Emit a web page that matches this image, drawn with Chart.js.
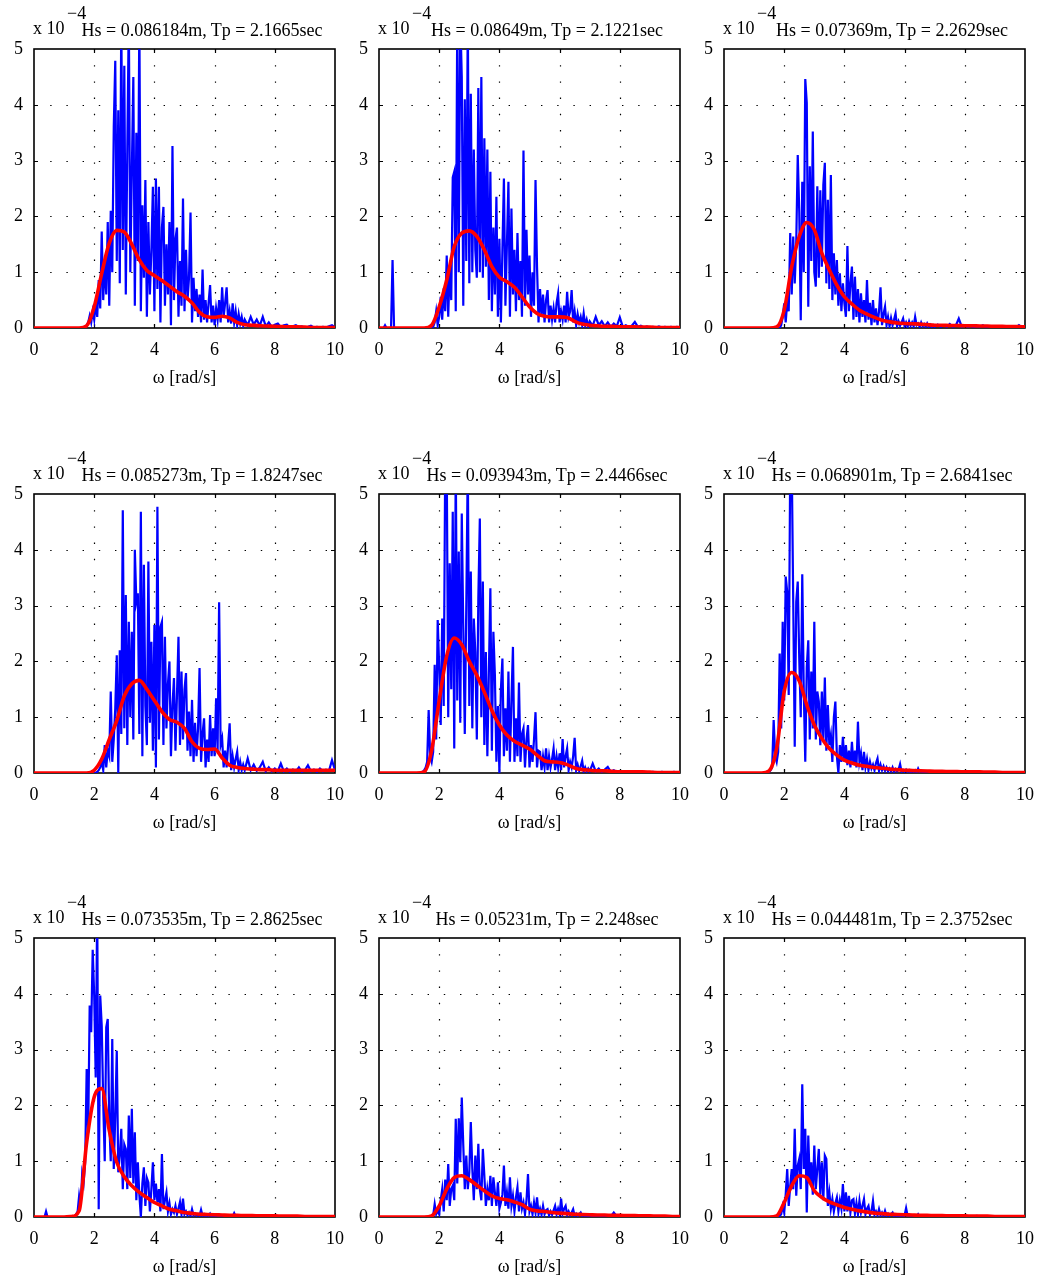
<!DOCTYPE html>
<html>
<head>
<meta charset="utf-8">
<script src="https://cdn.jsdelivr.net/npm/chart.js@4.4.1/dist/chart.umd.min.js"></script>
<style>
html, body { margin: 0; padding: 0; background: #fff; }
#fig { position: relative; width: 1041px; height: 1281px; overflow: hidden; background: #fff;
       font-family: "Liberation Serif", "Times New Roman", serif; color: #000; }
#fig canvas { position: absolute; }
.lbl { position: absolute; font-size: 18px; line-height: 20px; white-space: nowrap; }
</style>
</head>
<body>
<div id="fig"></div>
<script>
// ---- axis ticks -------------------------------------------------------
const xTicks = [0, 2, 4, 6, 8, 10];
const yTicks = [0, 1, 2, 3, 4, 5];
const xLabel = 'ω [rad/s]';
const yExponent = '−4';

// ---- panel titles -----------------------------------------------------
const panelTitles = [
  'Hs = 0.086184m, Tp = 2.1665sec',
  'Hs = 0.08649m, Tp = 2.1221sec',
  'Hs = 0.07369m, Tp = 2.2629sec',
  'Hs = 0.085273m, Tp = 1.8247sec',
  'Hs = 0.093943m, Tp = 2.4466sec',
  'Hs = 0.068901m, Tp = 2.6841sec',
  'Hs = 0.073535m, Tp = 2.8625sec',
  'Hs = 0.05231m, Tp = 2.248sec',
  'Hs = 0.044481m, Tp = 2.3752sec'
];

// ---- frequency bins ---------------------------------------------------
// measured spectrum: 0.05 rad/s bins up to 7 rad/s, 0.1 rad/s bins above
const omegaFine = Array.from({ length: 141 }, (_, i) => Math.round(i * 5) / 100);
const omegaTail = Array.from({ length: 30 }, (_, i) => (71 + i) / 10);
const omegaMeasured = omegaFine.concat(omegaTail);
// fitted spectrum: 0.25 rad/s bins
const omegaFit = Array.from({ length: 41 }, (_, i) => i * 0.25);

// ---- measured spectra (x 1e-4), one row per 1 rad/s, last row = 7.0 + tail 7.1..10.0
const blue1 = [
  0,0,0,0,0,0,0,0,0,0,0,0,0,0,0,0,0,0,0,0,
  0,0,0,0,0,0,0,0,0,0,0,0,0,0,0.02,0.05,0.1,0.22,0.1,0.3,
  0.15,0.45,0.2,0.86,0.35,1.73,0.5,1.2,0.6,1.9,0.4,2.1,1.0,3.6,4.79,1.2,3.9,0.8,5.6,1.4,
  4.7,0.6,3.2,5.6,1.0,2.8,4.5,0.4,3.5,1.2,5.6,0.3,2.2,0.9,2.65,0.2,1.9,0.6,1.4,2.53,
  0.3,2.68,0.7,2.53,0.1,1.8,2.17,0.4,1.5,0.6,1.9,0.05,3.26,0.5,1.6,1.8,0.2,1.2,0.4,2.32,
  0.3,1.4,0.5,0.9,2.07,0.1,0.9,0.3,0.7,0.2,0.6,0.1,1.05,0.15,0.5,0.1,0.45,0.77,0.1,0.4,
  0.05,0.35,0.15,0.5,0.1,0.73,0.2,0.45,0.73,0.1,0.3,0.08,0.44,0.1,0.3,0.05,0.25,0.08,0.2,0.04,
  0.15,
  0.05,0.2,0.06,0.15,0.04,0.2,0.03,0.1,0.02,0.06,0.08,0.02,0.05,0.06,0.01,0.03,0.05,0.02,0.03,0.01,
  0.02,0.04,0.01,0.02,0.01,0.02,0.01,0.03,0.05,0.01
];
const blue2 = [
  0,0,0,0,0.05,0,0,0,0,1.22,0,0,0,0,0,0,0,0,0,0,
  0,0,0,0,0,0,0,0,0,0,0,0,0,0,0,0,0.02,0.1,0.3,0.05,
  0.2,0.56,0.15,0.71,0.3,1.3,0.2,1.1,0.5,2.7,2.8,0.3,5.6,1.0,5.6,4.5,0.4,4.1,1.2,5.6,
  0.8,4.2,1.0,3.2,1.4,0.9,4.3,1.0,4.5,0.9,3.4,1.1,3.2,0.5,2.8,0.3,1.8,0.6,2.35,0.2,
  1.6,0.1,1.4,2.68,0.4,1.5,2.62,0.2,2.14,0.6,1.4,0.3,1.7,0.5,1.2,0.2,3.18,0.4,1.76,0.6,
  1.3,0.2,1.0,0.4,2.65,1.1,0.1,0.7,0.2,0.6,0.1,0.5,0.68,0.1,0.4,0.15,0.35,0.1,0.45,0.62,
  0.1,0.3,0.15,0.4,0.1,0.65,0.2,0.3,0.68,0.1,0.3,0.05,0.25,0.1,0.2,0.05,0.26,0.05,0.15,0.03,
  0.12,
  0.04,0.2,0.05,0.12,0.03,0.1,0.02,0.08,0.03,0.19,0.02,0.05,0.02,0.04,0.11,0.02,0.04,0.01,0.03,0.01,
  0.02,0.01,0.03,0.01,0.02,0.01,0.02,0.01,0.02,0.01
];
const blue3 = [
  0,0,0,0,0,0,0,0,0,0,0,0,0,0,0,0,0,0,0,0,
  0,0,0,0,0,0,0,0,0,0,0,0,0,0,0,0,0,0,0.05,0.2,
  0.44,0.1,0.47,0.3,1.7,0.6,1.64,0.8,1.52,3.1,2.08,0.14,2.62,1.0,4.46,4.03,0.38,2.9,1.2,3.52,
  1.0,0.74,2.54,0.9,2.47,1.1,2.56,2.96,0.8,2.3,0.7,2.74,0.5,1.34,0.6,1.22,0.4,0.98,0.3,0.8,
  0.44,0.2,1.47,0.3,0.8,1.1,0.15,0.92,0.2,0.7,0.1,0.62,0.2,0.5,0.1,0.86,0.15,0.45,0.05,0.5,
  0.1,0.35,0.05,0.3,0.73,0.05,0.25,0.38,0.05,0.2,0.03,0.18,0.05,0.15,0.26,0.03,0.12,0.04,0.1,0.17,
  0.03,0.1,0.02,0.12,0.04,0.1,0.03,0.2,0.05,0.08,0.02,0.1,0.03,0.07,0.02,0.08,0.02,0.06,0.02,0.05,
  0.02,
  0.06,0.02,0.05,0.02,0.07,0.02,0.04,0.17,0.02,0.05,0.02,0.04,0.01,0.03,0.02,0.05,0.01,0.03,0.01,0.02,
  0.01,0.02,0.01,0.02,0.01,0.02,0.01,0.05,0.01,0.01
];
const blue4 = [
  0,0,0,0,0,0,0,0,0,0,0,0,0,0,0,0,0,0,0,0,
  0,0,0,0,0,0,0,0,0,0,0,0,0,0,0,0,0,0,0,0,
  0,0,0.02,0.05,0.1,0.2,0.05,0.5,0.1,0.4,0.3,1.46,0.2,0.6,1.16,2.11,0,2.2,0.7,4.71,
  0.8,3.19,0.5,2.71,1.0,2.53,0.6,4.0,3.07,3.22,0.7,4.68,0.3,3.73,1.2,0.5,3.79,0.9,2.35,0.4,
  2.65,0.1,4.77,0.6,2.62,2.71,0.5,2.44,0.8,1.6,2.0,0.3,1.2,1.7,0.4,1.4,2.44,0.5,1.82,0.6,
  1.5,1.79,0.4,1.1,0.3,1.31,0.2,0.9,0.3,0.8,1.88,0.2,0.7,0.98,0.1,0.6,0.2,1.04,0.3,0.8,
  0.3,1.34,0.4,3.06,0.5,0.62,0.1,0.4,0.1,0.5,0.89,0.05,0.3,0.1,0.25,0.38,0.05,0.2,0.05,0.15,
  0.05,
  0.26,0.05,0.15,0.04,0.1,0.2,0.03,0.1,0.03,0.08,0.03,0.17,0.03,0.08,0.02,0.06,0.03,0.1,0.02,0.05,
  0.14,0.03,0.06,0.02,0.08,0.03,0.06,0.04,0.23,0.05
];
const blue5 = [
  0,0,0,0,0,0,0,0,0,0,0,0,0,0,0,0,0,0,0,0,
  0,0,0,0,0,0,0,0,0,0.02,0.05,0.1,0.2,1.13,0.3,0.2,0.38,1.94,0.6,2.74,
  1.9,0.86,2.77,1.2,5.6,5.6,1.0,3.76,1.5,4.68,0.44,5.6,1.3,3.97,0.9,4.65,2.59,0.7,3.0,5.6,
  1.2,3.61,0.8,2.77,2.17,0.6,3.13,4.56,1.0,3.43,0.5,2.17,0.3,1.8,3.31,0.4,2.53,1.76,0.2,1.2,
  0,1.5,2.05,0.3,1.16,0.4,1.82,0.2,1.3,2.26,0.2,0.98,0.3,1.62,0.2,0.7,0.8,0.1,0.6,0.86,
  0.1,0.5,0.2,0.6,1.09,0.1,0.4,0.38,0.05,0.3,0.1,0.44,0.05,0.3,0.1,0.25,0.44,0.05,0.3,0.1,
  0.35,0.05,0.61,0.1,0.3,0.44,0.05,0.2,0.1,0.3,0.63,0.05,0.15,0.04,0.12,0.22,0.03,0.1,0.03,0.08,
  0.03,
  0.17,0.03,0.08,0.02,0.06,0.11,0.02,0.05,0.02,0.03,0.01,0.03,0.01,0.02,0.01,0.02,0.01,0.02,0.01,0.01,
  0.02,0.01,0.01,0.02,0.01,0.01,0.01,0.02,0.01,0.01
];
const blue6 = [
  0,0,0,0,0,0,0,0,0,0,0,0,0,0,0,0,0,0,0,0,
  0,0,0,0,0,0,0,0,0,0,0.02,0.05,0.1,0.95,0.3,0.2,0.38,2.14,0.8,2.71,
  1.3,3.52,3.25,1.4,5.6,5.6,3.07,0.47,3.07,3.43,2.05,1.0,3.56,1.46,0.2,1.9,2.38,0.6,1.82,0.8,
  2.71,0.6,1.46,1.28,0.5,1.46,0.6,1.71,0.4,1.22,0.5,0.68,0.2,1.0,1.28,0.3,0,0.5,0.2,0.65,
  0.2,0.5,0.14,0.4,0.1,0.56,0.15,0.4,0.1,0.92,0.2,0.35,0.05,0.38,0.1,0.25,0.05,0.2,0.08,0.15,
  0.05,0.18,0.26,0.04,0.15,0.05,0.12,0.04,0.1,0.03,0.08,0.03,0.1,0.02,0.07,0.03,0.06,0.16,0.02,0.05,
  0.02,0.06,0.02,0.05,0.01,0.04,0.02,0.05,0.01,0.08,0.02,0.04,0.01,0.03,0.01,0.03,0.01,0.02,0.01,0.02,
  0.01,
  0.02,0.01,0.02,0.01,0.01,0.02,0.01,0.01,0.01,0.02,0.01,0.01,0.01,0.01,0.01,0.01,0.01,0.01,0.01,0.01,
  0.01,0.01,0.01,0.01,0.01,0.01,0.01,0.01,0.01,0.01
];
const blue7 = [
  0,0,0,0,0,0,0,0,0.1,0,0,0,0,0,0,0,0,0,0,0,
  0,0,0,0,0,0,0,0.02,0.05,0.1,0.38,0.2,0.77,0.62,0.98,2.65,1.5,3.79,3.31,4.79,
  3.97,2.5,5.6,0.14,3.97,3.43,2.05,1.0,3.4,3.55,1.7,1.0,3.19,0.86,1.8,2.98,0.8,1.1,1.58,0.5,
  1.3,1.22,0.5,1.82,0.7,1.94,0.6,1.52,0.3,0.98,0.4,0,0.6,0.89,0.2,0.7,0.62,0.1,0.5,0.98,
  0.3,0.6,0.26,0.5,0.1,1.13,0.14,0.3,0.44,0.1,0.25,0.05,0.14,0.08,0.2,0.05,0.15,0.27,0.05,0.33,
  0.05,0.1,0.03,0.08,0.02,0.14,0.03,0.06,0.02,0.05,0.02,0.13,0.02,0.05,0.01,0.04,0.02,0.06,0.01,0.04,
  0.01,0.03,0.01,0.04,0.01,0.03,0.01,0.02,0.01,0.03,0.01,0.02,0.01,0.07,0.01,0.02,0.01,0.02,0.01,0.02,
  0.01,
  0.02,0.01,0.02,0.01,0.01,0.02,0.01,0.01,0.01,0.02,0.01,0.01,0.01,0.01,0.01,0.01,0.01,0.01,0.01,0.01,
  0.01,0.01,0.01,0.01,0.01,0.01,0.01,0.01,0.01,0.01
];
const blue8 = [
  0,0,0,0,0,0,0,0,0,0,0,0,0,0,0,0,0,0,0,0,
  0,0,0,0,0,0,0,0,0,0,0,0,0,0,0,0,0.03,0.23,0.05,0.11,
  0.05,0.3,0.5,0.1,0.67,0.3,0.95,0.2,0.5,0.56,0.3,1.76,0.6,1.77,0.98,2.14,1.28,0.5,1.1,0.5,
  0.8,1.7,0.86,0.3,1.1,0.5,1.31,0.5,0.3,1.22,0.74,0.2,0.5,0.3,0.74,0.2,0.71,0.44,0.2,0.62,
  0.15,0.26,0.4,0.92,0.2,0.44,0.15,0.71,0.2,0.38,0.1,0.35,0.53,0.1,0.44,0.15,0.26,0.05,0.3,0.77,
  0.1,0.2,0.05,0.26,0.08,0.35,0.05,0.15,0.04,0.2,0.05,0.12,0.14,0.03,0.1,0.04,0.12,0.2,0.05,0.15,
  0.05,0.33,0.06,0.15,0.2,0.04,0.1,0.03,0.08,0.14,0.02,0.06,0.02,0.05,0.08,0.02,0.04,0.01,0.03,0.01,
  0.03,
  0.01,0.02,0.01,0.02,0.01,0.02,0.01,0.08,0.01,0.02,0.01,0.02,0.01,0.01,0.01,0.02,0.01,0.01,0.01,0.01,
  0.01,0.01,0.01,0.01,0.01,0.01,0.01,0.01,0.01,0.01
];
const blue9 = [
  0,0,0,0,0,0,0,0,0,0,0,0,0,0,0,0,0,0,0,0,
  0,0,0,0,0,0,0,0,0,0,0,0,0,0,0,0,0,0.02,0.05,0.2,
  0.08,0.4,0.86,0.2,0.56,0.86,0.5,1.58,0.38,0.92,1.04,0.5,2.38,0.86,1.58,0.08,1.46,0.6,0.98,0.4,
  1.28,0.5,0.86,1.22,0.4,0.98,0.3,1.1,1.04,0.2,0.44,0.15,0.32,0.1,0.25,0.35,0.1,0.3,0.15,0.59,
  0.1,0.44,0.1,0.38,0.08,0.3,0.32,0.06,0.25,0.05,0.29,0.08,0.2,0.32,0.05,0.15,0.2,0.04,0.1,0.29,
  0.04,0.1,0.03,0.14,0.03,0.08,0.02,0.11,0.02,0.06,0.02,0.05,0.08,0.01,0.04,0.01,0.03,0.01,0.03,0.01,
  0.03,0.16,0.02,0.04,0.01,0.03,0.01,0.02,0.01,0.05,0.01,0.02,0.01,0.02,0.01,0.02,0.01,0.01,0.01,0.02,
  0.01,
  0.01,0.01,0.02,0.01,0.01,0.01,0.01,0.01,0.01,0.01,0.01,0.01,0.01,0.02,0.01,0.01,0.01,0.01,0.01,0.01,
  0.01,0.01,0.01,0.01,0.01,0.01,0.01,0.01,0.01,0.01
];

// ---- fitted spectra (x 1e-4), omega = 0, 0.25, ..., 10 ------------------
const red1 = [0,0,0,0,0,0,0,0.04,0.38,0.98,1.52,1.75,1.72,1.5,1.22,1.03,0.94,0.85,0.75,0.65,0.57,
  0.45,0.28,0.2,0.19,0.21,0.18,0.1,0.06,0.05,0.04,0.035,0.03,0.025,0.02,0.02,0.015,0.01,0.01,0.01,0.01];
const red2 = [0,0,0,0,0,0,0,0.05,0.38,0.86,1.46,1.7,1.74,1.64,1.4,1.1,0.91,0.83,0.73,0.56,0.38,
  0.26,0.21,0.2,0.2,0.19,0.12,0.07,0.05,0.04,0.03,0.03,0.02,0.02,0.02,0.015,0.015,0.01,0.01,0.01,0.01];
const red3 = [0,0,0,0,0,0,0,0.02,0.32,1.1,1.64,1.89,1.76,1.34,1.04,0.77,0.56,0.43,0.32,0.25,0.19,
  0.14,0.11,0.09,0.08,0.075,0.07,0.06,0.05,0.05,0.045,0.045,0.04,0.04,0.035,0.035,0.03,0.03,0.025,0.025,0.02];
const red4 = [0,0,0,0,0,0,0,0,0.05,0.25,0.6,0.94,1.38,1.6,1.66,1.5,1.3,1.1,0.96,0.91,0.8,
  0.56,0.44,0.42,0.43,0.27,0.14,0.1,0.08,0.07,0.06,0.06,0.05,0.05,0.05,0.05,0.05,0.05,0.05,0.05,0.05];
const red5 = [0,0,0,0,0,0,0.02,0.41,1.3,2.1,2.42,2.3,2.0,1.75,1.45,1.12,0.86,0.68,0.57,0.5,0.43,
  0.32,0.22,0.2,0.19,0.15,0.09,0.06,0.05,0.04,0.04,0.03,0.02,0.02,0.02,0.02,0.015,0.01,0.01,0.01,0.01];
const red6 = [0,0,0,0,0,0,0.04,0.44,1.46,1.8,1.65,1.22,0.86,0.62,0.44,0.32,0.23,0.18,0.14,0.12,0.1,
  0.085,0.07,0.06,0.05,0.045,0.04,0.035,0.03,0.03,0.025,0.025,0.02,0.02,0.02,0.015,0.015,0.01,0.01,0.01,0.01];
const red7 = [0,0,0,0,0,0.01,0.11,1.34,2.15,2.3,1.55,0.98,0.72,0.56,0.44,0.35,0.26,0.2,0.14,0.11,0.08,
  0.065,0.05,0.045,0.04,0.035,0.03,0.03,0.025,0.025,0.02,0.02,0.02,0.015,0.015,0.015,0.01,0.01,0.01,0.01,0.01];
const red8 = [0,0,0,0,0,0,0,0.02,0.2,0.5,0.71,0.74,0.67,0.57,0.47,0.38,0.33,0.31,0.27,0.22,0.14,
  0.11,0.1,0.08,0.07,0.06,0.05,0.045,0.04,0.035,0.035,0.03,0.03,0.025,0.025,0.02,0.02,0.015,0.015,0.01,0.01];
const red9 = [0,0,0,0,0,0,0,0.02,0.26,0.56,0.74,0.71,0.47,0.35,0.27,0.22,0.17,0.14,0.11,0.09,0.07,
  0.06,0.05,0.045,0.04,0.035,0.03,0.03,0.025,0.025,0.02,0.02,0.02,0.015,0.015,0.015,0.01,0.01,0.01,0.01,0.01];

const measuredSets = [blue1, blue2, blue3, blue4, blue5, blue6, blue7, blue8, blue9];
const fittedSets = [red1, red2, red3, red4, red5, red6, red7, red8, red9];

// ---- layout of the 3x3 grid (plot-area corner positions) -------------
const colLeft = [34, 379, 724];
const rowTop = [49, 494, 938];
const PLOT_W = 301, PLOT_H = 279;
const Y_AXIS_W = 34, TOP_PAD = 49, X_AXIS_H = 62, RIGHT_PAD = 20;
const CANVAS_W = Y_AXIS_W + PLOT_W + RIGHT_PAD;
const CANVAS_H = TOP_PAD + PLOT_H + X_AXIS_H;
const FONT = { family: '"Liberation Serif", "Times New Roman", serif', size: 18 };

// dotted grid, inward tick marks and box, in MATLAB style
const framePlugin = {
  id: 'frame',
  beforeDatasetsDraw(chart) {
    const { ctx, chartArea: a, scales: { x, y } } = chart;
    const xs = xTicks.filter(v => v > x.min && v < x.max).map(v => Math.round(x.getPixelForValue(v)) + 0.5);
    const ys = yTicks.filter(v => v > y.min && v < y.max).map(v => Math.round(y.getPixelForValue(v)) + 0.5);
    ctx.save();
    ctx.strokeStyle = '#000';
    ctx.lineWidth = 1.2;
    ctx.setLineDash([1.4, 14.8]);
    for (const px of xs) { ctx.beginPath(); ctx.moveTo(px, a.top); ctx.lineTo(px, a.bottom); ctx.stroke(); }
    for (const py of ys) { ctx.beginPath(); ctx.moveTo(a.left, py); ctx.lineTo(a.right, py); ctx.stroke(); }
    ctx.setLineDash([]);
    ctx.lineWidth = 1.2;
    const t = 4;
    for (const px of xs) {
      ctx.beginPath(); ctx.moveTo(px, a.bottom); ctx.lineTo(px, a.bottom - t);
      ctx.moveTo(px, a.top); ctx.lineTo(px, a.top + t); ctx.stroke();
    }
    for (const py of ys) {
      ctx.beginPath(); ctx.moveTo(a.left, py); ctx.lineTo(a.left + t, py);
      ctx.moveTo(a.right, py); ctx.lineTo(a.right - t, py); ctx.stroke();
    }
    ctx.lineWidth = 1.6;
    ctx.strokeRect(a.left, a.top, a.right - a.left, a.bottom - a.top);
    ctx.restore();
  }
};

const fig = document.getElementById('fig');

function addLabel(text, left, top, center) {
  const d = document.createElement('div');
  d.className = 'lbl';
  d.textContent = text;
  d.style.left = left + 'px';
  d.style.top = top + 'px';
  if (center) d.style.transform = 'translateX(-50%)';
  fig.appendChild(d);
}

for (let k = 0; k < 9; k++) {
  const r = Math.floor(k / 3), c = k % 3;
  const px = colLeft[c], py = rowTop[r];

  const cv = document.createElement('canvas');
  cv.width = CANVAS_W; cv.height = CANVAS_H;
  cv.style.width = CANVAS_W + 'px'; cv.style.height = CANVAS_H + 'px';
  cv.style.left = (px - Y_AXIS_W) + 'px';
  cv.style.top = (py - TOP_PAD) + 'px';
  fig.appendChild(cv);

  const measured = omegaMeasured.map((w, i) => ({ x: w, y: measuredSets[k][i] }));
  const fitted = omegaFit.map((w, i) => ({ x: w, y: fittedSets[k][i] }));

  new Chart(cv, {
    type: 'line',
    data: {
      datasets: [
        { data: fitted, borderColor: '#ff0000', borderWidth: 3.6, pointRadius: 0,
          cubicInterpolationMode: 'monotone', fill: false },
        { data: measured, borderColor: '#0000ff', borderWidth: 2.2, pointRadius: 0,
          tension: 0, fill: false }
      ]
    },
    options: {
      responsive: false,
      animation: false,
      devicePixelRatio: 1,
      events: [],
      layout: { padding: { top: TOP_PAD, right: RIGHT_PAD, bottom: 0, left: 0 } },
      plugins: { legend: { display: false }, tooltip: { enabled: false }, title: { display: false } },
      scales: {
        x: {
          type: 'linear', min: 0, max: 10,
          grid: { display: false, drawTicks: false },
          border: { display: false },
          afterBuildTicks: s => { s.ticks = xTicks.map(v => ({ value: v })); },
          ticks: { color: '#000', font: FONT, padding: 11, maxRotation: 0, autoSkip: false },
          title: { display: true, text: xLabel, color: '#000', font: FONT, padding: { top: 0, bottom: 1 } },
          afterFit: s => { s.height = X_AXIS_H; }
        },
        y: {
          min: 0, max: 5,
          grid: { display: false, drawTicks: false },
          border: { display: false },
          afterBuildTicks: s => { s.ticks = yTicks.map(v => ({ value: v })); },
          ticks: { color: '#000', font: FONT, padding: 11 },
          afterFit: s => { s.width = Y_AXIS_W; }
        }
      }
    },
    plugins: [framePlugin]
  });

  addLabel(panelTitles[k], px + 168, py - 29, true);
  addLabel('x 10', px - 1, py - 31, false);
  addLabel(yExponent, px + 33, py - 46, false);
}
</script>
</body>
</html>
